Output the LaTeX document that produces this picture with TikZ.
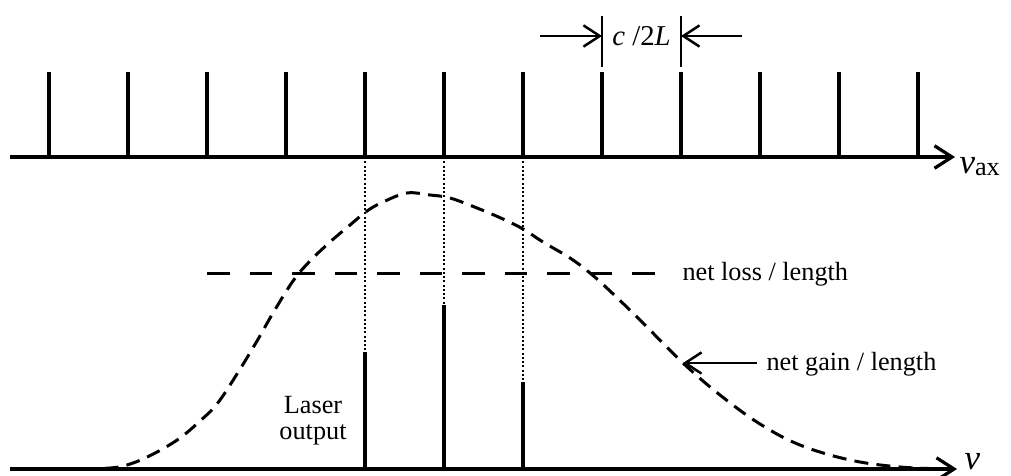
\documentclass[tikz,border=0pt]{standalone}
\usepackage{fontspec}
\setmainfont{Liberation Serif}
\usepackage{tikz}
\usetikzlibrary{arrows.meta,positioning}
\tikzset{
	axis_line/.style={
		line width=1.3pt,
		-{Straight Barb[length=7pt,width=9pt,line width=1.3pt]}
	},
	mode_line/.style={line width=1.6pt},
	gain_curve/.style={line width=1.2pt, dash pattern=on 5.6pt off 3.3pt},
	loss_line/.style={line width=1.2pt, dash pattern=on 9pt off 8pt},
	guide_line/.style={line width=0.5pt, dash pattern=on 0.8pt off 0.9pt},
	tick_line/.style={line width=0.6pt},
	pointer/.style={
		line width=0.9pt,
		-{Straight Barb[length=6.5pt,width=8.5pt,line width=1pt]}
	},
	caption/.style={inner sep=0pt}
}

\begin{document}
\begin{tikzpicture}[x=0.4pt,y=-0.4pt,font=\fontsize{10.5}{10.5}\selectfont]
	\useasboundingbox (0,0) rectangle (1011,475);
	% axial modes
	\coordinate (ax0) at (10,157);
	\coordinate (ax1) at (955,157);
	\draw[axis_line] (ax0) -- (ax1);
	\node[caption,anchor=base west] (nuax) at (959,173)
		{{\fontsize{14}{14}\selectfont\itshape ν}\raisebox{-1pt}{ax}};
	\foreach \k in {0,...,11} {
		\coordinate (b\k) at ({49+79*\k},157);
		\coordinate (t\k) at ({49+79*\k},72);
		\draw[mode_line] (b\k) -- (t\k);
	}
	% mode spacing
	\coordinate (s7) at (602,16);
	\coordinate (e7) at (602,67);
	\coordinate (s8) at (681,16);
	\coordinate (e8) at (681,67);
	\draw[tick_line] (s7) -- (e7);
	\draw[tick_line] (s8) -- (e8);
	\coordinate (p7) at (602,36);
	\coordinate (p8) at (681,36);
	\coordinate (q7) at (540,36);
	\coordinate (q8) at (742,36);
	\draw[pointer] (q7) -- (p7);
	\draw[pointer] (q8) -- (p8);
	\node[caption,font=\fontsize{11.5}{12}\selectfont] (spacing) at (641.5,36)
		{\textit{c} /2\textit{L}};
	% frequency axis
	\coordinate (fx0) at (10,469);
	\coordinate (fx1) at (957,469);
	\draw[axis_line] (fx0) -- (fx1);
	\node[caption,anchor=base west,font=\fontsize{14}{14}\selectfont\itshape] (nu) at (964,469) {ν};
	% gain and loss
	\draw[gain_curve] plot[smooth,tension=0.6] coordinates {
		(60,469) (110,468) (133,463) (157,452) (180,438) (200,421)
		(217,404) (237,374) (257,341) (273,313) (293,281) (310,261)
		(330,242) (350,225) (367,211) (383,202) (407,193) (430,195)
		(450,198) (477,208) (503,219) (523,229) (543,242) (570,258)
		(590,273) (610,291) (640,320) (683,363) (720,395) (760,424)
		(800,445) (850,460) (900,467) (950,469)
	};
	\coordinate (loss0) at (207,273);
	\coordinate (loss1) at (670,273);
	\draw[loss_line] (loss0) -- (loss1);
	\node[caption,anchor=base west] (losstext) at (682,280) {net loss / length};
	\coordinate (gaintip) at (683,363);
	\coordinate (gaintail) at (757,363);
	\draw[pointer] (gaintail) -- (gaintip);
	\node[caption,anchor=base west] (gaintext) at (766,370) {net gain / length};
	% lasing modes
	\coordinate (o1) at (365,469);
	\coordinate (o2) at (444,469);
	\coordinate (o3) at (523,469);
	\coordinate (h1) at (365,352);
	\coordinate (h2) at (444,305);
	\coordinate (h3) at (523,382);
	\foreach \i in {1,2,3} {
		\draw[mode_line] (o\i) -- (h\i);
	}
	\draw[guide_line] (b4) -- (h1);
	\draw[guide_line] (b5) -- (h2);
	\draw[guide_line] (b6) -- (h3);
	\node[caption,align=center] (laser) at (313,421) {Laser\\output};
\end{tikzpicture}
\end{document}
